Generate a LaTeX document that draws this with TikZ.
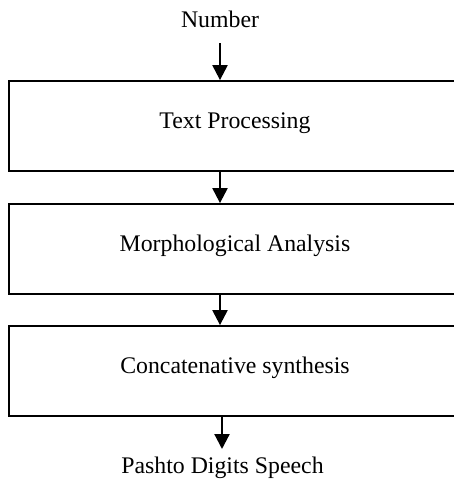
\documentclass[tikz,border=0pt]{standalone}
\usepackage{fontspec}
\setmainfont{Liberation Serif}
\usetikzlibrary{arrows.meta}
\begin{document}
\begin{tikzpicture}[x=1pt,y=1pt,
  every node/.style={font=\fontsize{23.8}{28}\selectfont},
  stagebox/.style={draw, line width=1.8pt, minimum width=452pt, minimum height=90pt, inner sep=0pt},
  flowarrow/.style={line width=2.2pt, -{Triangle[length=15pt,width=15pt]}}]
\useasboundingbox (0,0) rectangle (454,-482);
\clip (0,0) rectangle (454,-482);
\node[inner sep=0pt] (num) at (220,-19) {Number};
\coordinate (s1) at (220,-43);
\node[stagebox] (b1) at (235,-126) {};
\node at (235,-123) (t1) {Text Processing};
\node[stagebox] (b2) at (235,-249) {};
\node at (235,-246) (t2) {Morphological Analysis};
\node[stagebox] (b3) at (235,-371) {};
\node at (235,-368) (t3) {Concatenative synthesis};
\node[inner sep=0pt] (out) at (222.5,-468) {Pashto Digits Speech};
\coordinate (e4) at (222,-449);
\draw[flowarrow] (s1) -- (s1 |- b1.north);
\draw[flowarrow] (s1 |- b1.south) -- (s1 |- b2.north);
\draw[flowarrow] (s1 |- b2.south) -- (s1 |- b3.north);
\draw[flowarrow] (e4 |- b3.south) -- (e4);
\end{tikzpicture}
\end{document}
